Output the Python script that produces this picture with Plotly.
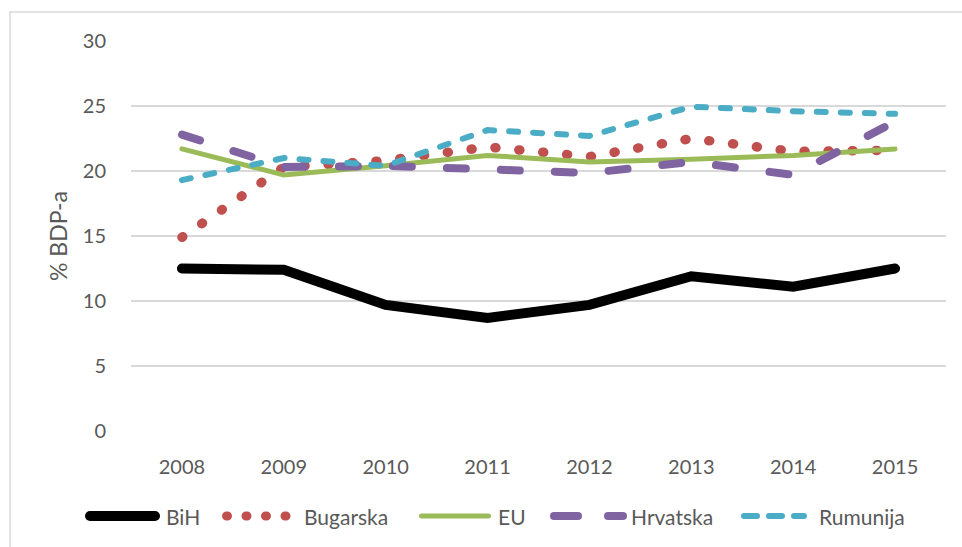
import plotly.graph_objects as go

years = ["2008", "2009", "2010", "2011", "2012", "2013", "2014", "2015"]
bih = [12.5, 12.4, 9.7, 8.7, 9.7, 11.9, 11.1, 12.5]
bugarska = [14.9, 20.3, 20.8, 21.85, 21.1, 22.5, 21.5, 21.6]
eu = [21.7, 19.7, 20.4, 21.2, 20.7, 20.9, 21.2, 21.7]
hrvatska = [22.8, 20.3, 20.4, 20.1, 19.85, 20.7, 19.7, 23.8]
rumunija = [19.3, 21.0, 20.4, 23.15, 22.7, 24.95, 24.6, 24.4]
y_ticks = [0, 5, 10, 15, 20, 25, 30]
series_names = ["BiH", "Bugarska", "EU", "Hrvatska", "Rumunija"]

FONT = "Lato"
TXT = "#595959"

styles = {
    "BiH": dict(color="#000000", width=10),
    "Bugarska": dict(color="#C0504D", width=9.5, dash="1px,23px"),
    "EU": dict(color="#9BBB59", width=5),
    "Hrvatska": dict(color="#8064A2", width=8, dash="19px,35px"),
    "Rumunija": dict(color="#4BACC6", width=6, dash="9px,15px"),
}
values = {"BiH": bih, "Bugarska": bugarska, "EU": eu, "Hrvatska": hrvatska, "Rumunija": rumunija}

fig = go.Figure()
for n in series_names:
    fig.add_trace(go.Scatter(x=years, y=values[n], name=n, mode="lines",
                             line=styles[n], showlegend=False))

L, R, T, B = 131, 946, 41, 431
W, H = 962, 547

def px_x(p):
    return (p - L) / (R - L)

def px_y(p):
    return (B - p) / (B - T)

# custom legend (Excel-like long samples)
LEG_Y = 516
legend_layout = {
    "BiH": (90, 155, 164, dict(color="#000000", width=10)),
    "Bugarska": (226.5, 286, 302, dict(color="#C0504D", width=9, dash="1px,18.5px")),
    "EU": (421.5, 488.5, 496, dict(color="#9BBB59", width=5)),
    "Hrvatska": (554, 623, 629, dict(color="#8064A2", width=8, dash="24px,30px")),
    "Rumunija": (744, 804, 817, dict(color="#4BACC6", width=6, dash="13px,12px")),
}

shapes = [
    dict(type="line", xref="paper", yref="paper", x0=px_x(10), x1=px_x(962),
         y0=px_y(12), y1=px_y(12), line=dict(color="#D9D9D9", width=1.5)),
    dict(type="line", xref="paper", yref="paper", x0=px_x(10), x1=px_x(10),
         y0=px_y(12), y1=px_y(547), line=dict(color="#D9D9D9", width=1.5)),
]
annotations = []
for n in series_names:
    x0, x1, tx, ln = legend_layout[n]
    shapes.append(dict(type="line", xref="paper", yref="paper", x0=px_x(x0), x1=px_x(x1),
                       y0=px_y(LEG_Y), y1=px_y(LEG_Y), line=ln))
    annotations.append(dict(text=n, xref="paper", yref="paper", x=px_x(tx), y=px_y(LEG_Y),
                            xanchor="left", yanchor="middle", showarrow=False,
                            font=dict(family=FONT, size=21, color=TXT)))

fig.update_layout(
    width=W, height=H,
    margin=dict(l=L, r=W - R, t=T, b=H - B, pad=0),
    paper_bgcolor="white", plot_bgcolor="white",
    font=dict(family=FONT, size=20, color=TXT),
    showlegend=False,
    xaxis=dict(type="category", range=[-0.5, 7.5], showgrid=False, zeroline=False,
               showline=False, ticks="outside", ticklen=18, tickcolor="rgba(0,0,0,0)",
               tickfont=dict(family=FONT, size=20, color=TXT)),
    yaxis=dict(range=[0, 30], tickvals=y_ticks, showgrid=True, gridcolor="#D9D9D9",
               gridwidth=1.5, zeroline=False, showline=False, ticks="outside",
               ticklen=20, tickcolor="rgba(0,0,0,0)",
               tickfont=dict(family=FONT, size=20, color=TXT),
               title=dict(text="% BDP-a", font=dict(family=FONT, size=23, color=TXT),
                          standoff=8)),
    shapes=shapes,
    annotations=annotations,
)

post = """
document.body.style.margin = '0';
var gd = document.getElementById('{plot_id}');
function rc(){ gd.querySelectorAll('path.js-line, .shapelayer path').forEach(function(p){ p.style.strokeLinecap='round'; }); }
rc(); gd.on('plotly_afterplot', rc);
"""
fig.write_html("out.html", post_script=post, config={"displayModeBar": False})
